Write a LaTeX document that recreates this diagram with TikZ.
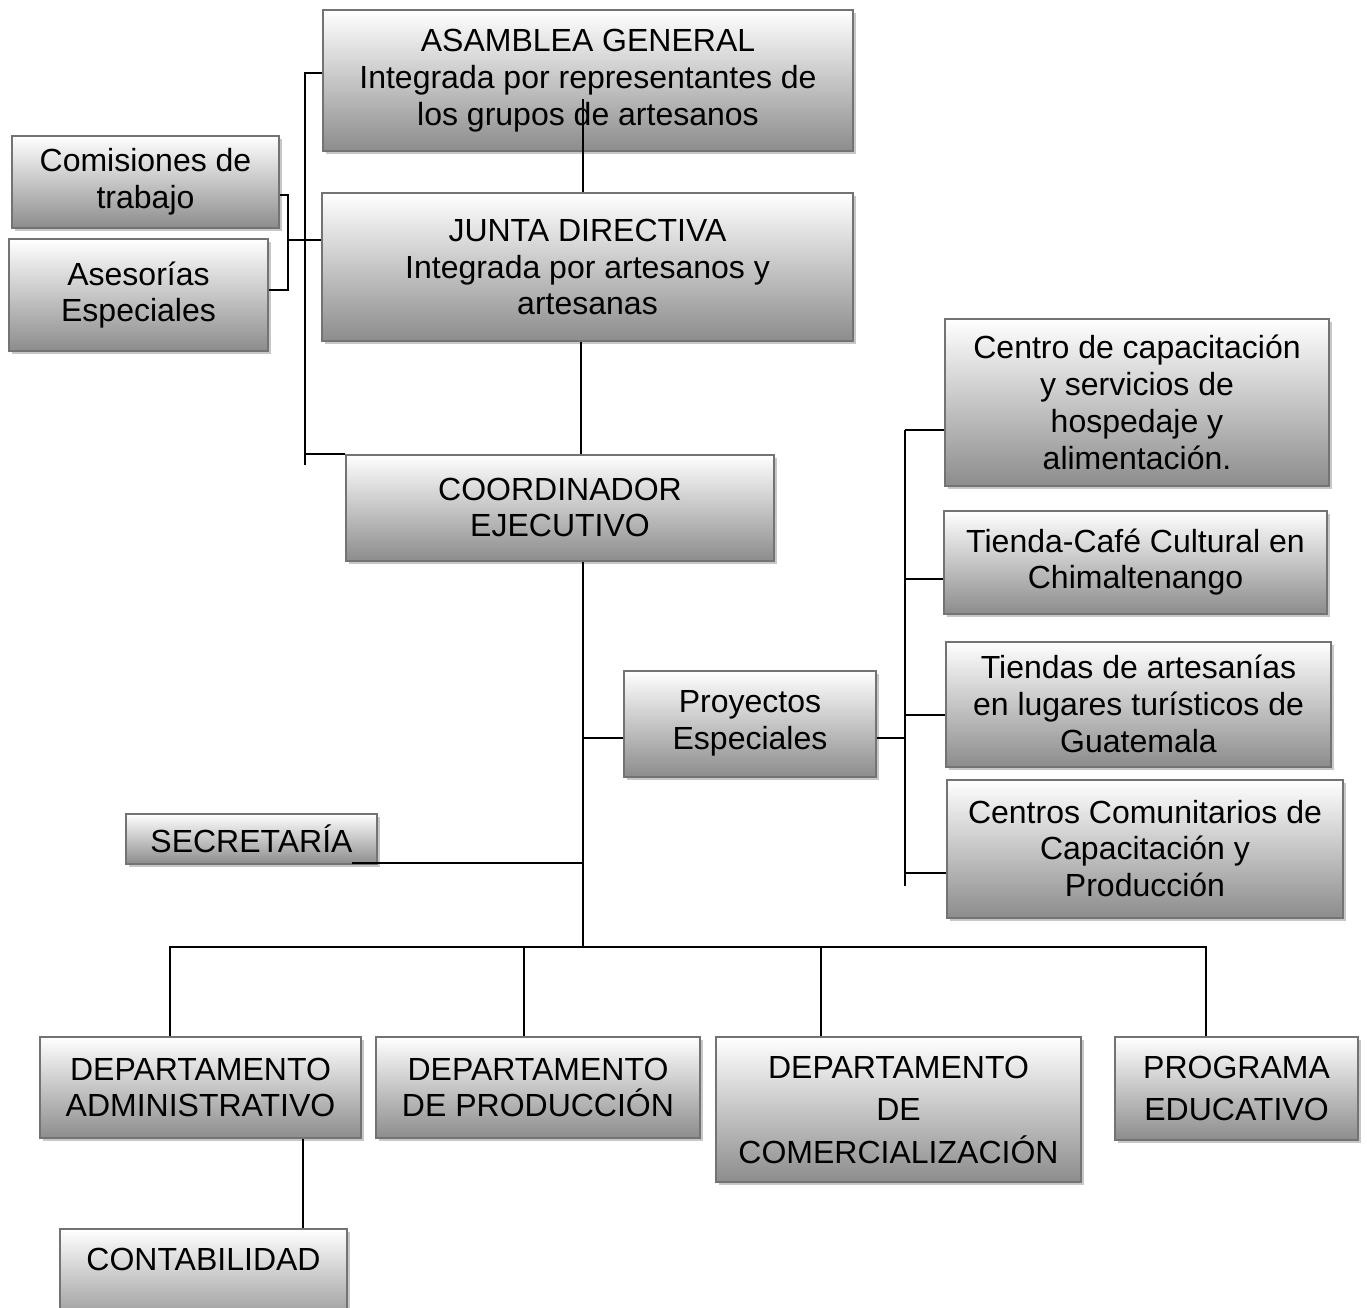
\documentclass[tikz,border=0pt]{standalone}
\usepackage{fontspec}
\setmainfont{Liberation Sans}
\usetikzlibrary{shadows}

\tikzset{
  orgbox/.style={draw=black!55, line width=2pt, top color=white, bottom color=black!45,
    general shadow={fill=black!22, shadow xshift=3pt, shadow yshift=-3pt},
    align=center, inner sep=2pt, font=\fontsize{32}{36.8}\selectfont},
  conn/.style={draw=black, line width=2pt}
}

\begin{document}
\begin{tikzpicture}[x=1pt,y=-1pt]
\useasboundingbox (0,0) rectangle (1367,1307);

% upper part
\node[orgbox, minimum width=530, minimum height=141] (asamblea) at (588,80.5)
  {ASAMBLEA GENERAL\\Integrada por representantes de\\los grupos de artesanos};
\node[orgbox, minimum width=531, minimum height=148] (junta) at (587.5,267)
  {JUNTA DIRECTIVA\\Integrada por artesanos y\\artesanas};
\node[orgbox, minimum width=267, minimum height=92] (comisiones) at (145.5,182) {Comisiones de\\trabajo};
\node[orgbox, minimum width=259, minimum height=112] (asesorias) at (138.5,295) {Asesorías\\Especiales};
\node[orgbox, minimum width=428, minimum height=106] (coord) at (560,507.5) {COORDINADOR\\EJECUTIVO};

% projects
\node[orgbox, minimum width=252, minimum height=106] (proyectos) at (750,723.5) {Proyectos\\Especiales};
\node[orgbox, minimum width=384, minimum height=167] (centro) at (1137,402.5)
  {Centro de capacitación\\y servicios de\\hospedaje y\\alimentación.};
\node[orgbox, minimum width=383, minimum height=103] (tiendacafe) at (1135.5,562) {Tienda-Café Cultural en\\Chimaltenango};
\node[orgbox, minimum width=385, minimum height=125] (tiendas) at (1138.5,704)
  {Tiendas de artesanías\\en lugares turísticos de\\Guatemala};
\node[orgbox, minimum width=396, minimum height=138] (centros) at (1145,848.5)
  {Centros Comunitarios de\\Capacitación y\\Producción};
\node[orgbox, minimum width=251, minimum height=50] (secretaria) at (251.5,839) {SECRETARÍA};

% departments
\node[orgbox, minimum width=321, minimum height=101] (admin) at (200.5,1087.5) {DEPARTAMENTO\\ADMINISTRATIVO};
\node[orgbox, minimum width=324, minimum height=101] (prod) at (538,1087.5) {DEPARTAMENTO\\DE PRODUCCIÓN};
\node[orgbox, minimum width=365, minimum height=145, font=\fontsize{32}{42.5}\selectfont] (comerc) at (898.5,1109.5)
  {DEPARTAMENTO\\DE\\COMERCIALIZACIÓN};
\node[orgbox, minimum width=243, minimum height=103, font=\fontsize{32}{42.5}\selectfont] (programa) at (1236.5,1088.5)
  {PROGRAMA\\EDUCATIVO};
\node[orgbox, minimum width=287, inner ysep=0pt, text height=41pt, text depth=62pt, anchor=north] (contab) at (203.5,1228)
  {CONTABILIDAD};

\coordinate (lbot) at (305,465);
\coordinate (cj) at (288,240);
\coordinate (spine) at (583,947);
\coordinate (rtop) at (905,430);
\coordinate (rbot) at (905,886);

% connectors
\draw[conn] ([xshift=-5pt,yshift=53pt]asamblea.south) coordinate (a) -- (a |- junta.north);
\draw[conn] ([yshift=7.5pt]asamblea.west) -| (lbot);
\draw[conn] (coord.north west) -- (coord.north west -| lbot);
\draw[conn] ([yshift=-13pt]comisiones.east) -| (cj) |- ([yshift=5pt]asesorias.east);
\draw[conn] (cj) -- (cj -| junta.west);
\draw[conn] ([xshift=-6.5pt]junta.south) coordinate (j) -- (j |- coord.north);
\draw[conn] (spine |- coord.south) -- (spine);
\draw[conn] ([yshift=-14pt]proyectos.west) coordinate (p) -- (p -| spine);
\draw[conn] ([yshift=-14pt]proyectos.east) coordinate (q) -- (q -| rbot);
\draw[conn] (rtop) -- (rbot);
\foreach \n/\y in {centro/430, tiendacafe/579, tiendas/715, centros/873}
  \draw[conn] (rbot |- 0,\y) -- (\n.west |- 0,\y);
\draw[conn] ([xshift=100pt,yshift=2pt]secretaria.south) coordinate (s) -- (s -| spine);
\draw[conn] ([xshift=-30.5pt]admin.north) |- (spine) -| ([xshift=-30.5pt]programa.north);
\draw[conn] ([xshift=-14pt]prod.north) coordinate (d) -- (d |- spine);
\draw[conn] ([xshift=-77.5pt]comerc.north) coordinate (e) -- (e |- spine);
\draw[conn] ([xshift=102.5pt]admin.south) coordinate (f) -- (f |- contab.north);
\end{tikzpicture}
\end{document}
